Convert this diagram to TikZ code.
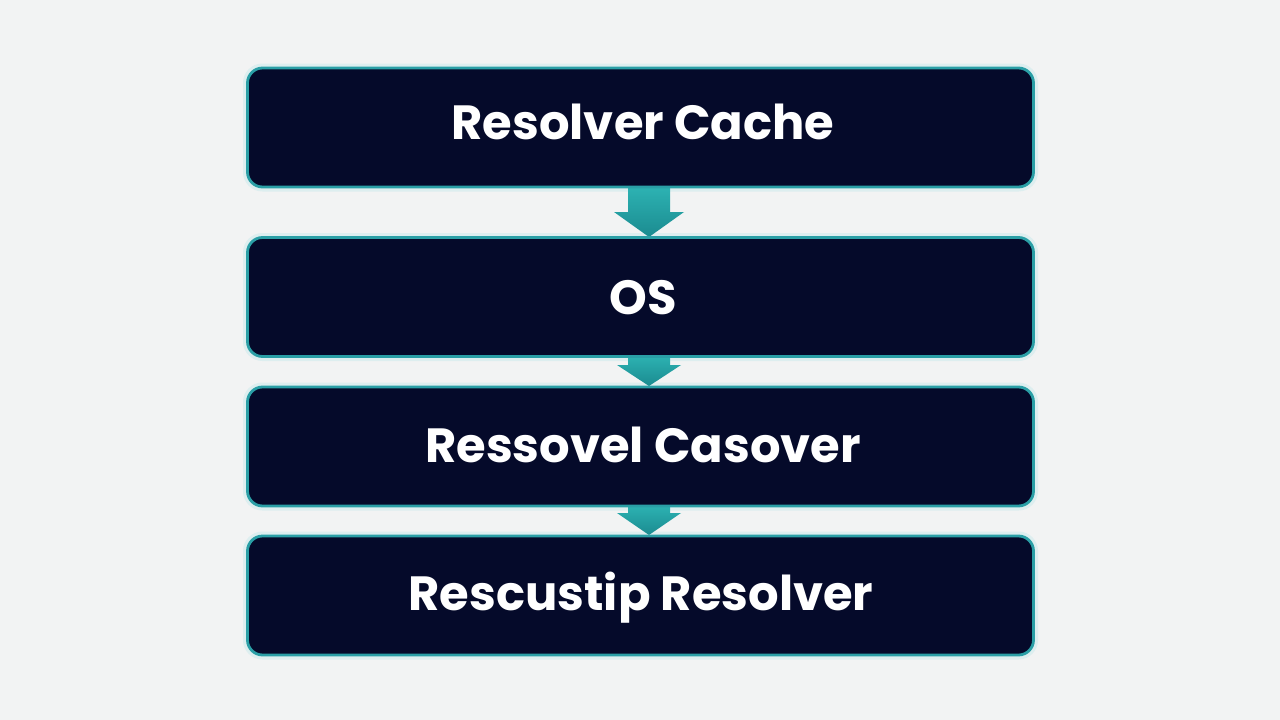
\documentclass[tikz,border=0pt]{standalone}
\usepackage{fontspec}
\setmainfont{Poppins}
\usetikzlibrary{shadings}
\definecolor{bg}{HTML}{F2F3F3}
\definecolor{navy}{HTML}{050A2A}
\definecolor{tealb}{HTML}{2A9FA6}
\definecolor{tealtop}{HTML}{2DB3B3}
\definecolor{tealbot}{HTML}{1B8B90}
\definecolor{halo}{HTML}{DDEEEF}
\tikzset{
  layerbox/.style={draw=tealb, line width=2.8pt, fill=navy, rounded corners=15pt,
    minimum width=786pt, minimum height=119pt, inner sep=0pt},
  layerhalo/.style={draw=halo, line width=9pt, rounded corners=15pt,
    minimum width=786pt, minimum height=119pt, inner sep=0pt},
  layertext/.style={anchor=base, inner sep=0pt, text=white,
    font=\fontsize{48}{56}\selectfont\bfseries},
  flowarrow/.style={top color=tealtop, bottom color=tealbot, draw=none}
}
\begin{document}
\begin{tikzpicture}[x=1pt,y=-1pt]
\fill[bg] (0,0) rectangle (1280,720);
\useasboundingbox (0,0) rectangle (1280,720);
% soft halo round the layers
\node[layerhalo] (h1) at (640.5,127.5) {};
\node[layerhalo] (h2) at (640.5,297) {};
\node[layerhalo] (h3) at (640.5,446.5) {};
\node[layerhalo] (h4) at (640.5,595.5) {};
% block arrows between the layers
\shade[flowarrow] (628,186) -- (670,186) -- (670,212) -- (684,212) -- (649,237) -- (614,212) -- (628,212) -- cycle;
\shade[flowarrow] (628,355) -- (670,355) -- (670,365) -- (681,365) -- (649,386) -- (617,365) -- (628,365) -- cycle;
\shade[flowarrow] (628,505) -- (670,505) -- (670,513) -- (681,513) -- (649,535) -- (617,513) -- (628,513) -- cycle;
\node[layerbox] (b1) at (640.5,127.5) {};
\node[layerbox] (b2) at (640.5,297) {};
\node[layerbox] (b3) at (640.5,446.5) {};
\node[layerbox] (b4) at (640.5,595.5) {};
\node[layertext] (t1) at (643,139) {Resolver Cache};
\node[layertext] (t2) at (643,314) {OS};
\node[layertext] (t3) at (643,462) {Ressovel Casover};
\node[layertext] (t4) at (641,610) {Rescustip Resolver};
\end{tikzpicture}
\end{document}
